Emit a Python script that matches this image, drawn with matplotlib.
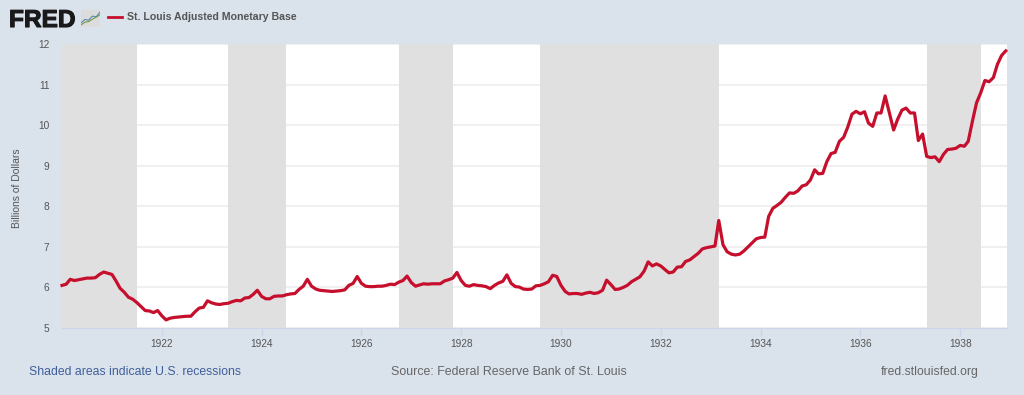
import matplotlib
matplotlib.use("Agg")
import matplotlib.pyplot as plt
import matplotlib.dates as mdates
import matplotlib.patheffects as pe
import pandas as pd

plt.rcParams["font.family"] = ["Liberation Sans", "DejaVu Sans"]

y1920 = [6.05, 6.08, 6.20, 6.17, 6.19, 6.21, 6.23, 6.23, 6.24, 6.32, 6.38, 6.35]
y1921 = [6.32, 6.15, 5.98, 5.88, 5.76, 5.71, 5.63, 5.53, 5.43, 5.42, 5.38, 5.43]
y1922 = [5.30, 5.20, 5.24, 5.26, 5.27, 5.28, 5.29, 5.29, 5.40, 5.49, 5.51, 5.67]
y1923 = [5.62, 5.59, 5.58, 5.60, 5.61, 5.65, 5.68, 5.67, 5.74, 5.75, 5.83, 5.93]
y1924 = [5.78, 5.72, 5.72, 5.78, 5.79, 5.79, 5.82, 5.84, 5.85, 5.95, 6.03, 6.20]
y1925 = [6.03, 5.96, 5.93, 5.92, 5.91, 5.90, 5.91, 5.92, 5.94, 6.05, 6.10, 6.27]
y1926 = [6.10, 6.03, 6.02, 6.02, 6.03, 6.03, 6.05, 6.08, 6.07, 6.13, 6.17, 6.28]
y1927 = [6.12, 6.03, 6.06, 6.09, 6.08, 6.09, 6.09, 6.09, 6.16, 6.19, 6.23, 6.37]
y1928 = [6.17, 6.05, 6.03, 6.07, 6.05, 6.04, 6.02, 5.97, 6.05, 6.11, 6.15, 6.31]
y1929 = [6.10, 6.02, 6.01, 5.96, 5.95, 5.96, 6.04, 6.05, 6.09, 6.14, 6.30, 6.27]
y1930 = [6.05, 5.90, 5.84, 5.85, 5.85, 5.83, 5.86, 5.88, 5.85, 5.87, 5.93, 6.18]
y1931 = [6.07, 5.95, 5.96, 6.00, 6.05, 6.14, 6.20, 6.26, 6.40, 6.63, 6.53, 6.58]
y1932 = [6.53, 6.44, 6.36, 6.38, 6.50, 6.51, 6.64, 6.68, 6.76, 6.84, 6.95, 6.98]
y1933 = [7.00, 7.02, 7.65, 7.05, 6.88, 6.82, 6.80, 6.82, 6.90, 7.00, 7.10, 7.20]
y1934 = [7.23, 7.24, 7.75, 7.95, 8.02, 8.10, 8.22, 8.33, 8.32, 8.38, 8.50, 8.53]
y1935 = [8.65, 8.90, 8.80, 8.81, 9.10, 9.30, 9.33, 9.60, 9.70, 9.95, 10.27, 10.34]
y1936 = [10.28, 10.33, 10.05, 9.97, 10.30, 10.30, 10.72, 10.30, 9.88, 10.15, 10.37, 10.42]
y1937 = [10.30, 10.30, 9.62, 9.78, 9.23, 9.20, 9.22, 9.10, 9.28, 9.40, 9.41, 9.43]
y1938 = [9.50, 9.48, 9.60, 10.10, 10.55, 10.80, 11.10, 11.07, 11.17, 11.50, 11.72, 11.83]

base = (y1920 + y1921 + y1922 + y1923 + y1924 + y1925 + y1926 + y1927 + y1928 + y1929
        + y1930 + y1931 + y1932 + y1933 + y1934 + y1935 + y1936 + y1937 + y1938)
months = pd.date_range("1920-01-01", periods=len(base), freq="MS")

rec_start = ["1920-01-01", "1923-05-01", "1926-10-01", "1929-08-01", "1937-05-01"]
rec_end = ["1921-07-01", "1924-07-01", "1927-11-01", "1933-03-01", "1938-06-01"]

tick_years = [1922, 1924, 1926, 1928, 1930, 1932, 1934, 1936, 1938]
y_ticks = [5, 6, 7, 8, 9, 10, 11, 12]

logo_x = [0, 1, 2, 3, 4, 5]
logo_blue = [1.2, 2.2, 2.0, 3.2, 3.0, 4.4]
logo_green = [0.6, 1.4, 1.6, 2.3, 2.9, 3.6]

bg = "#dae2ec"
W, H = 1024, 395

fig = plt.figure(figsize=(W / 100, H / 100), dpi=100, facecolor=bg)
ax = fig.add_axes([62 / W, 1 - 328 / H, 945 / W, 284 / H], facecolor="white")

ax.grid(axis="y", color="#f0f0f0", lw=1.5, zorder=1)
for s, e in zip(rec_start, rec_end):
    ax.axvspan(pd.Timestamp(s), pd.Timestamp(e), color="#e0e0e0", lw=0, zorder=2)
ax.plot(months, base, color="#c60f2d", lw=2.3, solid_joinstyle="round", zorder=3, clip_on=False)

ax.set_xlim(pd.Timestamp("1920-01-01"), pd.Timestamp("1938-12-10"))
ax.set_ylim(5, 12)
ax.set_yticks(y_ticks)
ax.set_xticks([pd.Timestamp(f"{y}-01-01") for y in tick_years])
ax.xaxis.set_major_formatter(mdates.DateFormatter("%Y"))
ax.tick_params(axis="x", length=6, width=1, color="#ccd6eb", labelsize=7.3, labelcolor="#555555", pad=2)
ax.tick_params(axis="y", length=0, labelsize=7.3, labelcolor="#555555", pad=9)
for name, sp in ax.spines.items():
    sp.set_visible(name == "bottom")
ax.spines["bottom"].set_color("#ccd6eb")
ax.set_axisbelow(True)

fig.text(17 / W, 1 - 188 / H, "Billions of Dollars", rotation=90, ha="center", va="center",
         fontsize=7.5, color="#555555")

# header: logo, then legend
fred = fig.text(9 / W, 1 - 27 / H, "FRED", fontsize=17.6, fontweight="bold", color="#1a1a1a",
                ha="left", va="baseline")
fred.set_path_effects([pe.withStroke(linewidth=0.8, foreground="#1a1a1a")])
logo = fig.add_axes([81 / W, 1 - 27 / H, 19 / W, 17 / H], facecolor="#dcdcdc")
logo.plot(logo_x, logo_blue, color="#5b86b5", lw=0.8)
logo.plot(logo_x, logo_green, color="#6f9a45", lw=0.8)
logo.set_xlim(0, 5)
logo.set_ylim(0, 5)
logo.set_xticks([])
logo.set_yticks([])
for sp in logo.spines.values():
    sp.set_visible(False)

fig.add_artist(plt.Line2D([108 / W, 122 / W], [1 - 17 / H, 1 - 17 / H], color="#c60f2d", lw=2.0))
fig.text(127 / W, 1 - 17 / H, "St. Louis Adjusted Monetary Base", fontsize=7.55, fontweight="bold",
         color="#555555", ha="left", va="center")

# footer
fig.text(29 / W, 1 - 372 / H, "Shaded areas indicate U.S. recessions", fontsize=8.85,
         color="#3f5f9a", ha="left", va="center")
fig.text(391 / W, 1 - 372 / H, "Source: Federal Reserve Bank of St. Louis", fontsize=8.9,
         color="#666666", ha="left", va="center")
fig.text(979 / W, 1 - 372 / H, "fred.stlouisfed.org", fontsize=8.85,
         color="#666666", ha="right", va="center")

fig.savefig("out.png", dpi=100, facecolor=bg)
